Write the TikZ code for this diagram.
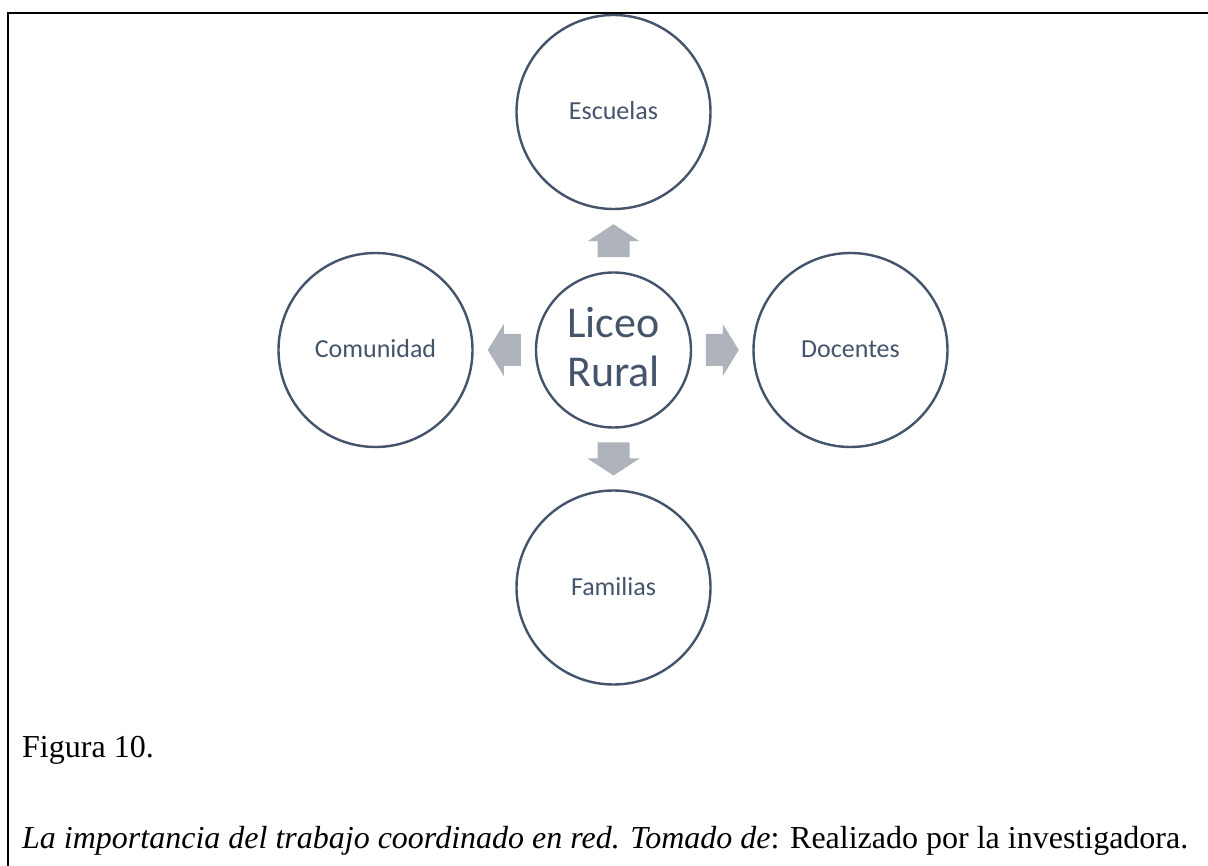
\documentclass[tikz,border=0pt]{standalone}
\usepackage{fontspec}
\setmainfont{Liberation Serif}
\newfontfamily\calfont{Carlito}
\usetikzlibrary{calc}
\definecolor{ringcol}{RGB}{68,84,106}
\definecolor{arrowcol}{RGB}{175,179,187}
\tikzset{
  ring/.style={circle, draw=ringcol, line width=2.4pt, inner sep=0pt, text=ringcol,
     font=\calfont\fontsize{26}{30}\selectfont, text height=16pt, text depth=0pt},
  outer/.style={ring, minimum size=194pt},
  hub/.style={ring, minimum size=155pt, text height=, text depth=, align=center,
     font=\calfont\fontsize{44}{50}\selectfont},
  blockarrow/.style={fill=arrowcol, draw=none},
  frame/.style={line width=2.2pt, black},
  caption/.style={anchor=base west, inner sep=0pt, font=\fontsize{32}{36}\selectfont}
}
\begin{document}
\begin{tikzpicture}[x=1pt, y=-1pt]
\useasboundingbox (0,0) rectangle (1208,866);
\fill[white] (0,0) rectangle (1208,866);
% frame
\draw[frame] (8.3,870) -- (8.3,13.3) -- (1212,13.3);
% circles
\node[hub] (liceo) at (613.5,350) {Liceo\\[-1pt]Rural\rule[-6pt]{0pt}{0pt}};
\node[outer] (esc) at (613.5,112) {Escuelas};
\node[outer] (com) at (375.5,350) {Comunidad};
\node[outer] (doc) at (850.5,350) {Docentes};
\node[outer] (fam) at (613.5,587.5) {Familias};
% arrow positions between hub and outer circles
\coordinate (aU) at ($(liceo.north)!0.5!(esc.south)$);
\coordinate (aD) at ($(liceo.south)!0.5!(fam.north)$);
\coordinate (aL) at ($(liceo.west)!0.5!(com.east)$);
\coordinate (aR) at ($(liceo.east)!0.5!(doc.west)$);
\fill[blockarrow, shift={(aU)}] (-16,16.5) -- (-16,0.5) -- (-26,0.5) -- (0,-16.5) -- (26,0.5) -- (16,0.5) -- (16,16.5) -- cycle;
\fill[blockarrow, shift={(aD)}] (-16,-16.5) -- (-16,-0.5) -- (-26,-0.5) -- (0,16.5) -- (26,-0.5) -- (16,-0.5) -- (16,-16.5) -- cycle;
\fill[blockarrow, shift={(aL)}] (16.5,-16) -- (-0.5,-16) -- (-0.5,-26) -- (-16.5,0) -- (-0.5,26) -- (-0.5,16) -- (16.5,16) -- cycle;
\fill[blockarrow, shift={(aR)}] (-16.5,-16) -- (0.5,-16) -- (0.5,-26) -- (16.5,0) -- (0.5,26) -- (0.5,16) -- (-16.5,16) -- cycle;
% caption
\node[caption] (fig) at (22,757) {Figura 10.};
\node[caption] (cap) at (22,848) {\textit{La importancia del trabajo coordinado en red. Tomado de}: Realizado por la investigadora.};
\end{tikzpicture}
\end{document}
